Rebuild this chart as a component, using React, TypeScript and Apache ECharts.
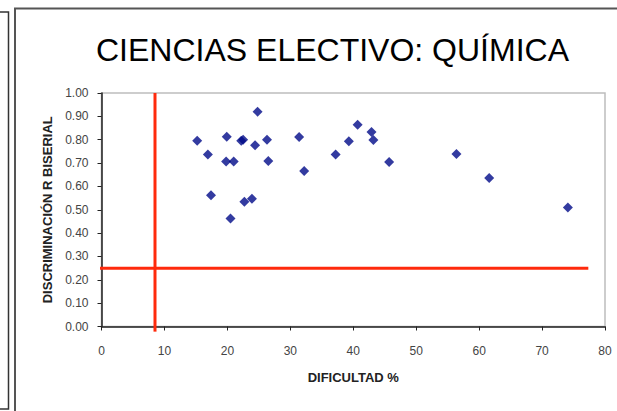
import React, { useEffect, useRef } from "react";
import * as echarts from "echarts";

const titleText = "CIENCIAS ELECTIVO: QUÍMICA";
const xName = "DIFICULTAD %";
const yName = "DISCRIMINACIÓN R BISERIAL";

const dificultad = [
  15.2, 16.9, 19.9, 22.2, 22.5, 24.4, 24.8, 26.3, 19.8, 21.0, 26.5, 31.4, 32.2,
  17.4, 22.7, 23.9, 20.5, 40.7, 42.9, 43.2, 39.3, 37.2, 45.7, 56.4, 61.6, 74.1,
];
const discriminacion = [
  0.796, 0.737, 0.813, 0.796, 0.8, 0.776, 0.92, 0.8, 0.707, 0.707, 0.709, 0.812,
  0.666, 0.562, 0.534, 0.547, 0.463, 0.864, 0.833, 0.799, 0.793, 0.737, 0.704,
  0.739, 0.636, 0.51,
];

// reference lines
const refHorizontal = [
  [-1.55, 0.25],
  [77.35, 0.25],
];
const refVertical = [
  [8.5, 1.0],
  [8.5, -0.022],
];

const FONT = "'Liberation Sans', Arial, sans-serif";

export default function App() {
  const ref = useRef<HTMLDivElement>(null);
  useEffect(() => {
    document.body.style.margin = "0";
    const chart = echarts.init(ref.current!, null, { renderer: "svg" });
    const points = dificultad.map((x, i) => [x, discriminacion[i]]);
    const redLine = { color: "#ff2a0c", width: 3 };
    chart.setOption({
      animation: false,
      backgroundColor: "#ffffff",
      title: {
        text: titleText,
        left: 91,
        top: 29,
        textStyle: {
          fontFamily: FONT,
          fontSize: 32,
          fontWeight: "normal",
          color: "#000",
        },
      },
      graphic: [
        {
          type: "rect",
          shape: { x: -10, y: 12, width: 18.5, height: 397 },
          style: { fill: "none", stroke: "#333", lineWidth: 1.5 },
          z: 10,
        },
        {
          type: "rect",
          shape: { x: 15, y: 8.5, width: 700, height: 500 },
          style: { fill: "none", stroke: "#555", lineWidth: 2 },
          z: 10,
        },
      ],
      grid: {
        left: 101.5,
        right: 12,
        top: 93,
        bottom: 84.5,
        show: true,
        borderColor: "#bdbdbd",
        borderWidth: 1.5,
        backgroundColor: "#fff",
      },
      xAxis: {
        type: "value",
        min: 0,
        max: 80,
        interval: 10,
        name: xName,
        nameLocation: "middle",
        nameGap: 44,
        nameTextStyle: {
          fontFamily: FONT,
          fontSize: 13,
          fontWeight: "bold",
          color: "#222",
        },
        axisLine: { lineStyle: { color: "#222", width: 1.5 } },
        axisTick: { show: true, length: 4, lineStyle: { color: "#222" } },
        axisLabel: {
          fontFamily: FONT,
          fontSize: 12,
          color: "#444",
          margin: 18,
        },
        splitLine: { show: false },
      },
      yAxis: {
        type: "value",
        min: 0,
        max: 1,
        interval: 0.1,
        name: yName,
        nameLocation: "middle",
        nameGap: 48,
        nameTextStyle: {
          fontFamily: FONT,
          fontSize: 13,
          fontWeight: "bold",
          color: "#222",
        },
        axisLine: { lineStyle: { color: "#222", width: 1.5 } },
        axisTick: { show: true, length: 4, lineStyle: { color: "#222" } },
        axisLabel: {
          fontFamily: FONT,
          fontSize: 12,
          color: "#444",
          margin: 13,
          formatter: (v: number) => v.toFixed(2),
        },
        splitLine: { show: false },
      },
      series: [
        {
          type: "scatter",
          data: points,
          symbol: "diamond",
          symbolSize: [10, 10],
          itemStyle: { color: "#000a88" },
          z: 5,
        },
        {
          type: "line",
          data: refHorizontal,
          clip: false,
          symbol: "none",
          lineStyle: redLine,
          z: 4,
        },
        {
          type: "line",
          data: refVertical,
          clip: false,
          symbol: "none",
          lineStyle: redLine,
          z: 4,
        },
      ],
    });
    return () => chart.dispose();
  }, []);
  return <div ref={ref} style={{ width: 617, height: 411 }} />;
}
